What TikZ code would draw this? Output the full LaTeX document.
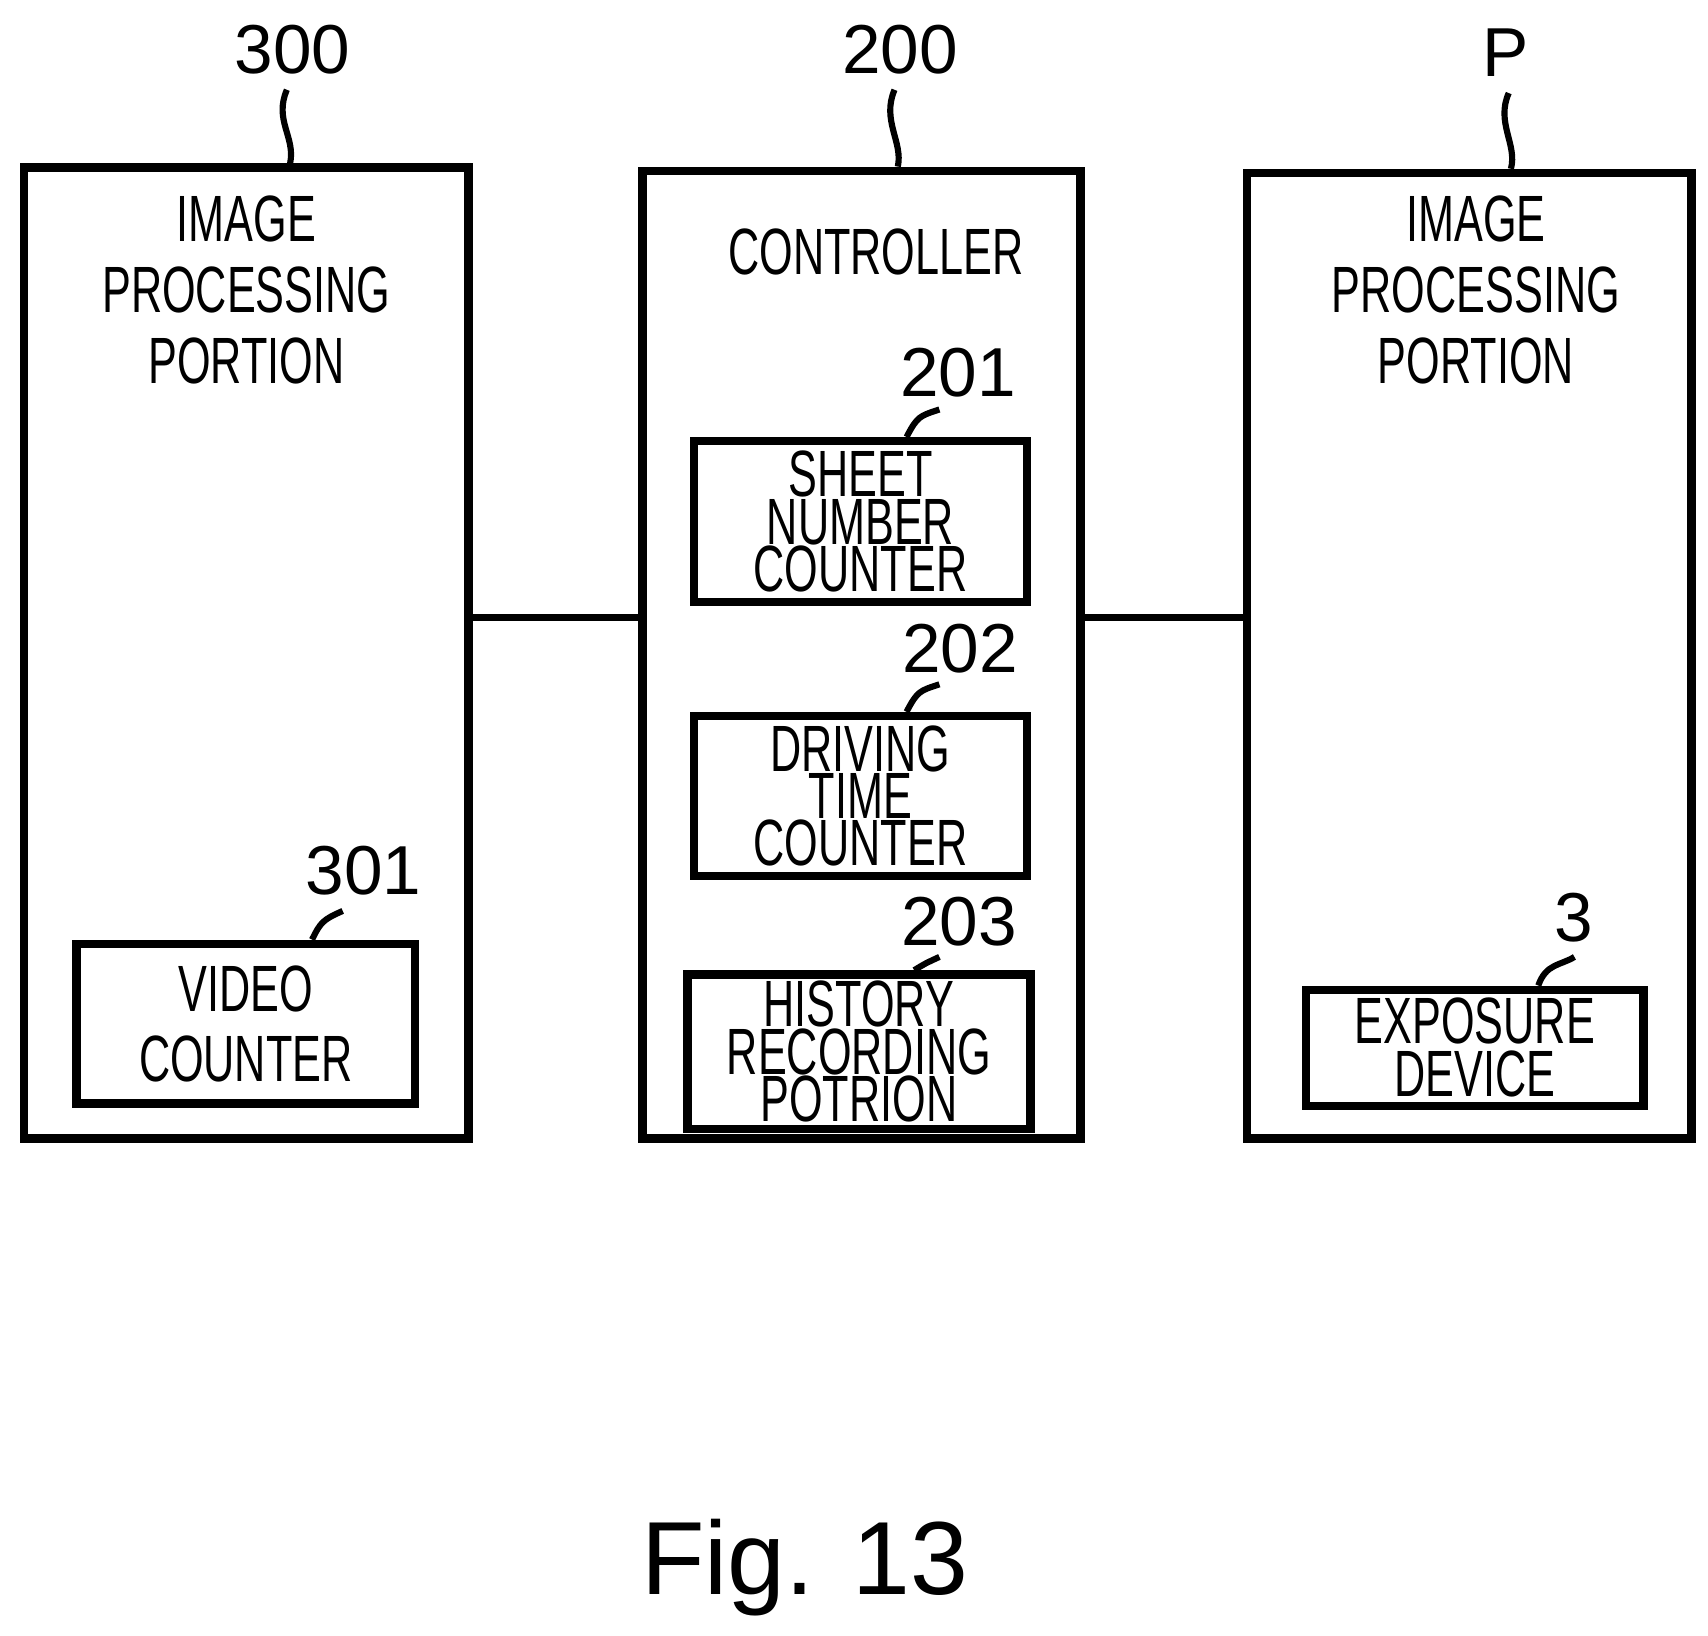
\documentclass[tikz,border=0pt]{standalone}
\usepackage{fontspec}
\usetikzlibrary{fit}
\setmainfont{Liberation Sans}
\newfontfamily\narrowf[FakeStretch=0.66]{Liberation Sans}
\begin{document}
\begin{tikzpicture}[x=0.01cm,y=-0.01cm,line width=1.6pt,
  box/.style={draw,line width=2.2pt,inner sep=0pt},
  lbl/.style={font=\narrowf\fontsize{17}{18.5}\selectfont,align=center,inner sep=0},
  tight/.style={font=\narrowf\fontsize{17}{12.3}\selectfont,align=center,inner sep=0},
  num/.style={font=\fontsize{18}{22}\selectfont,inner sep=0}]
\useasboundingbox (0,0) rectangle (1560,1494);
\node[box,fit={(22,153)(428,1040)}] (L) {};
\node[box,fit={(587,156)(987,1040)}] (M) {};
\node[box,fit={(1139,158)(1545,1040)}] (R) {};
\draw (L.east |- 0,564) -- (M.west |- 0,564);
\draw (M.east |- 0,564) -- (R.west |- 0,564);
\node[lbl] (t1) at (225,265) {IMAGE\\PROCESSING\\PORTION};
\node[lbl] (t2) at (800,230) {CONTROLLER};
\node[lbl] (t3) at (1348,265) {IMAGE\\PROCESSING\\PORTION};
\node[num] (n300) at (267,45) {300};
\node[num] (n200) at (822,45) {200};
\node[num] (nP) at (1375,48) {P};
\draw (262,82) .. controls (250,110) and (270,125) .. (L.north -| 265,0);
\draw (817,82) .. controls (805,110) and (825,130) .. (M.north -| 820,0);
\draw (1378,85) .. controls (1366,112) and (1386,132) .. (R.north -| 1380,0);
\node[box,fit={(634,403)(938,550)}] (S) {};
\node[tight] at (S.center) {SHEET\\NUMBER\\COUNTER};
\node[num] (n201) at (875,340) {201};
\draw (858,374) .. controls (840,380) and (838,380) .. (S.north -| 828,0);
\node[box,fit={(634,654)(938,800)}] (D) {};
\node[tight] at (D.center) {DRIVING\\TIME\\COUNTER};
\node[num] (n202) at (877,592) {202};
\draw (858,625) .. controls (840,631) and (838,631) .. (D.north -| 828,0);
\node[box,fit={(628,890)(941,1031)}] (H) {};
\node[tight] at (H.center) {HISTORY\\RECORDING\\POTRION};
\node[num] (n203) at (876,842) {203};
\draw (858,874) .. controls (845,880) and (845,880) .. (H.north -| 835,0);
\node[box,fit={(70,862)(379,1008)}] (V) {};
\node[lbl,font=\narrowf\fontsize{17}{18.3}\selectfont] at (V.center) {VIDEO\\COUNTER};
\node[num] (n301) at (332,795) {301};
\draw (313,832) .. controls (295,840) and (293,842) .. (V.north -| 285,0);
\node[box,fit={(1193,904)(1501,1010)}] (E) {};
\node[tight,font=\narrowf\fontsize{17}{13.8}\selectfont] at (E.center) {EXPOSURE\\DEVICE};
\node[num] (n3) at (1437,838) {3};
\draw (1438,874) .. controls (1425,882) and (1412,880) .. (E.north -| 1405,0);
\node[font=\fontsize{27}{30}\selectfont,inner sep=0] (fig) at (735,1432) {Fig. 13};
\end{tikzpicture}
\end{document}
